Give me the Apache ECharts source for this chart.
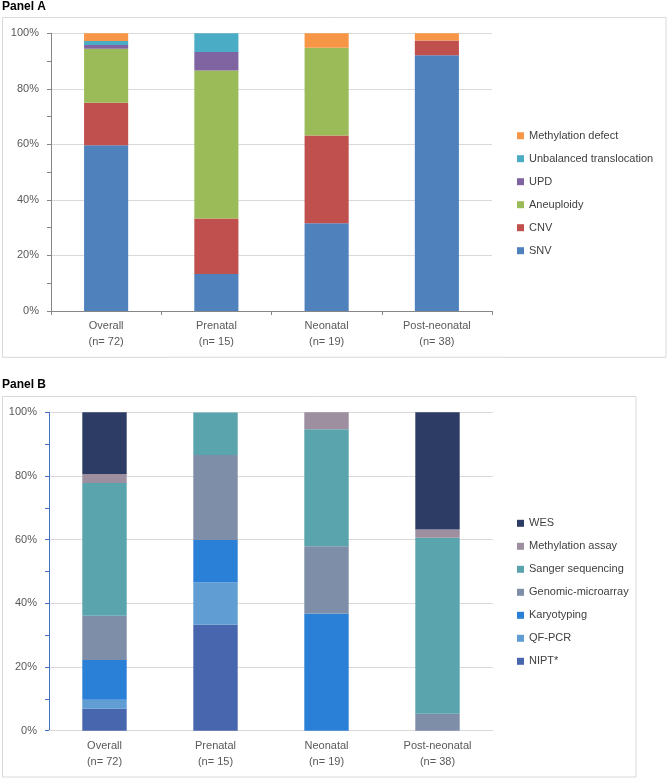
<!DOCTYPE html>
<html>
<head>
<meta charset="utf-8">
<script src="https://cdn.jsdelivr.net/npm/echarts@6/dist/echarts.min.js"></script>
<style>
html,body{margin:0;padding:0;background:#fff;}
#chart{width:669px;height:781px;}
</style>
</head>
<body>
<div id="chart"></div>
<script>
// ---- Data (percent of diagnosed cases per group) ----
var categories = ['Overall', 'Prenatal', 'Neonatal', 'Post-neonatal'];
var groupSizes = [72, 15, 19, 38];
var yTicks = [0, 20, 40, 60, 80, 100];

// Panel A: type of genetic defect
var snv = [59.7, 13.3, 31.6, 92.1];
var cnv = [15.3, 20.0, 31.6, 5.3];
var aneuploidy = [19.4, 53.3, 31.6, 0];
var upd = [1.4, 6.7, 0, 0];
var unbalancedTranslocation = [1.4, 6.7, 0, 0];
var methylationDefect = [2.8, 0, 5.2, 2.6];

// Panel B: diagnostic test
var nipt = [6.9, 33.3, 0, 0];
var qfpcr = [2.8, 13.3, 0, 0];
var karyotyping = [12.5, 13.3, 36.8, 0];
var genomicMicroarray = [13.9, 26.7, 21.1, 5.3];
var sangerSequencing = [41.7, 13.3, 36.8, 55.3];
var methylationAssay = [2.8, 0, 5.3, 2.6];
var wes = [19.4, 0, 0, 36.8];

var seriesA = [
  {name: 'SNV', data: snv, color: '#4f81bd'},
  {name: 'CNV', data: cnv, color: '#c0504d'},
  {name: 'Aneuploidy', data: aneuploidy, color: '#9bbb59'},
  {name: 'UPD', data: upd, color: '#8064a2'},
  {name: 'Unbalanced translocation', data: unbalancedTranslocation, color: '#4bacc6'},
  {name: 'Methylation defect', data: methylationDefect, color: '#f79646'}
];
var seriesB = [
  {name: 'NIPT*', data: nipt, color: '#4866ae'},
  {name: 'QF-PCR', data: qfpcr, color: '#5f9dd2'},
  {name: 'Karyotyping', data: karyotyping, color: '#2a7fd7'},
  {name: 'Genomic-microarray', data: genomicMicroarray, color: '#7f8ea8'},
  {name: 'Sanger sequencing', data: sangerSequencing, color: '#5aa4ad'},
  {name: 'Methylation assay', data: methylationAssay, color: '#9d8f9f'},
  {name: 'WES', data: wes, color: '#2d3c64'}
];

var FONT = '"Liberation Sans", Arial, sans-serif';
var labels = categories.map(function (c, i) { return c + '\n(n= ' + groupSizes[i] + ')'; });

function xAxis(gridIndex, lineColor, showTick) {
  return {
    type: 'category', gridIndex: gridIndex, data: labels,
    axisLine: {show: true, lineStyle: {color: lineColor, width: 1}},
    axisTick: {show: showTick, length: 4, lineStyle: {color: lineColor}},
    axisLabel: {color: '#595959', fontSize: 11, fontFamily: FONT, lineHeight: 16, margin: 7, interval: 0}
  };
}
function yAxis(gridIndex, lineColor, margin) {
  return {
    type: 'value', gridIndex: gridIndex, min: yTicks[0], max: yTicks[yTicks.length - 1],
    interval: yTicks[1] - yTicks[0],
    axisLine: {show: true, lineStyle: {color: lineColor, width: 1}},
    axisTick: {show: true, length: 4, lineStyle: {color: lineColor}},
    minorTick: {show: true, splitNumber: 2, length: 4, lineStyle: {color: lineColor}},
    splitLine: {show: true, lineStyle: {color: '#d9d9d9', width: 1}},
    axisLabel: {color: '#595959', fontSize: 11, fontFamily: FONT, margin: margin, formatter: '{value}%'}
  };
}

var series = [];
seriesA.forEach(function (s) {
  series.push({type: 'bar', name: s.name, data: s.data, stack: 'A', xAxisIndex: 0, yAxisIndex: 0,
    barWidth: '40%', itemStyle: {color: s.color}, emphasis: {disabled: true}});
});
seriesB.forEach(function (s) {
  series.push({type: 'bar', name: s.name, data: s.data, stack: 'B', xAxisIndex: 1, yAxisIndex: 1,
    barWidth: '40%', itemStyle: {color: s.color}, emphasis: {disabled: true}});
});

function legend(list, top) {
  return {
    orient: 'vertical', left: 512, top: top, selectedMode: false,
    data: list.map(function (s) { return s.name; }).reverse(),
    icon: 'rect', itemWidth: 7, itemHeight: 7, itemGap: 9,
    textStyle: {color: '#404040', fontSize: 11, fontFamily: FONT, lineHeight: 14}
  };
}

var option = {
  animation: false,
  backgroundColor: '#fff',
  grid: [
    {left: 51, right: 177, top: 33.3, height: 277.7, containLabel: false},
    {left: 49, right: 176, top: 412.3, height: 318.4, containLabel: false}
  ],
  xAxis: [xAxis(0, '#868686', true), xAxis(1, '#d9d9d9', false)],
  yAxis: [yAxis(0, '#868686', 12), yAxis(1, '#4472c4', 12)],
  legend: [legend(seriesA, 123.7), legend(seriesB, 511.3)],
  graphic: [
    {type: 'rect', shape: {x: 2.5, y: 17.5, width: 663.5, height: 339.8}, style: {fill: null, stroke: '#d9d9d9', lineWidth: 1}, z: -1},
    {type: 'rect', shape: {x: 2.5, y: 396.5, width: 633.5, height: 380.5}, style: {fill: null, stroke: '#d9d9d9', lineWidth: 1}, z: -1},
    {type: 'text', left: 2, top: 1, style: {text: 'Panel A', fill: '#000', font: 'bold 12px "Liberation Sans", Arial, sans-serif'}},
    {type: 'text', left: 2, top: 379, style: {text: 'Panel B', fill: '#000', font: 'bold 12px "Liberation Sans", Arial, sans-serif'}}
  ],
  series: series
};

var chart = echarts.init(document.getElementById('chart'), null, {renderer: 'canvas'});
chart.setOption(option);
</script>
</body>
</html>
